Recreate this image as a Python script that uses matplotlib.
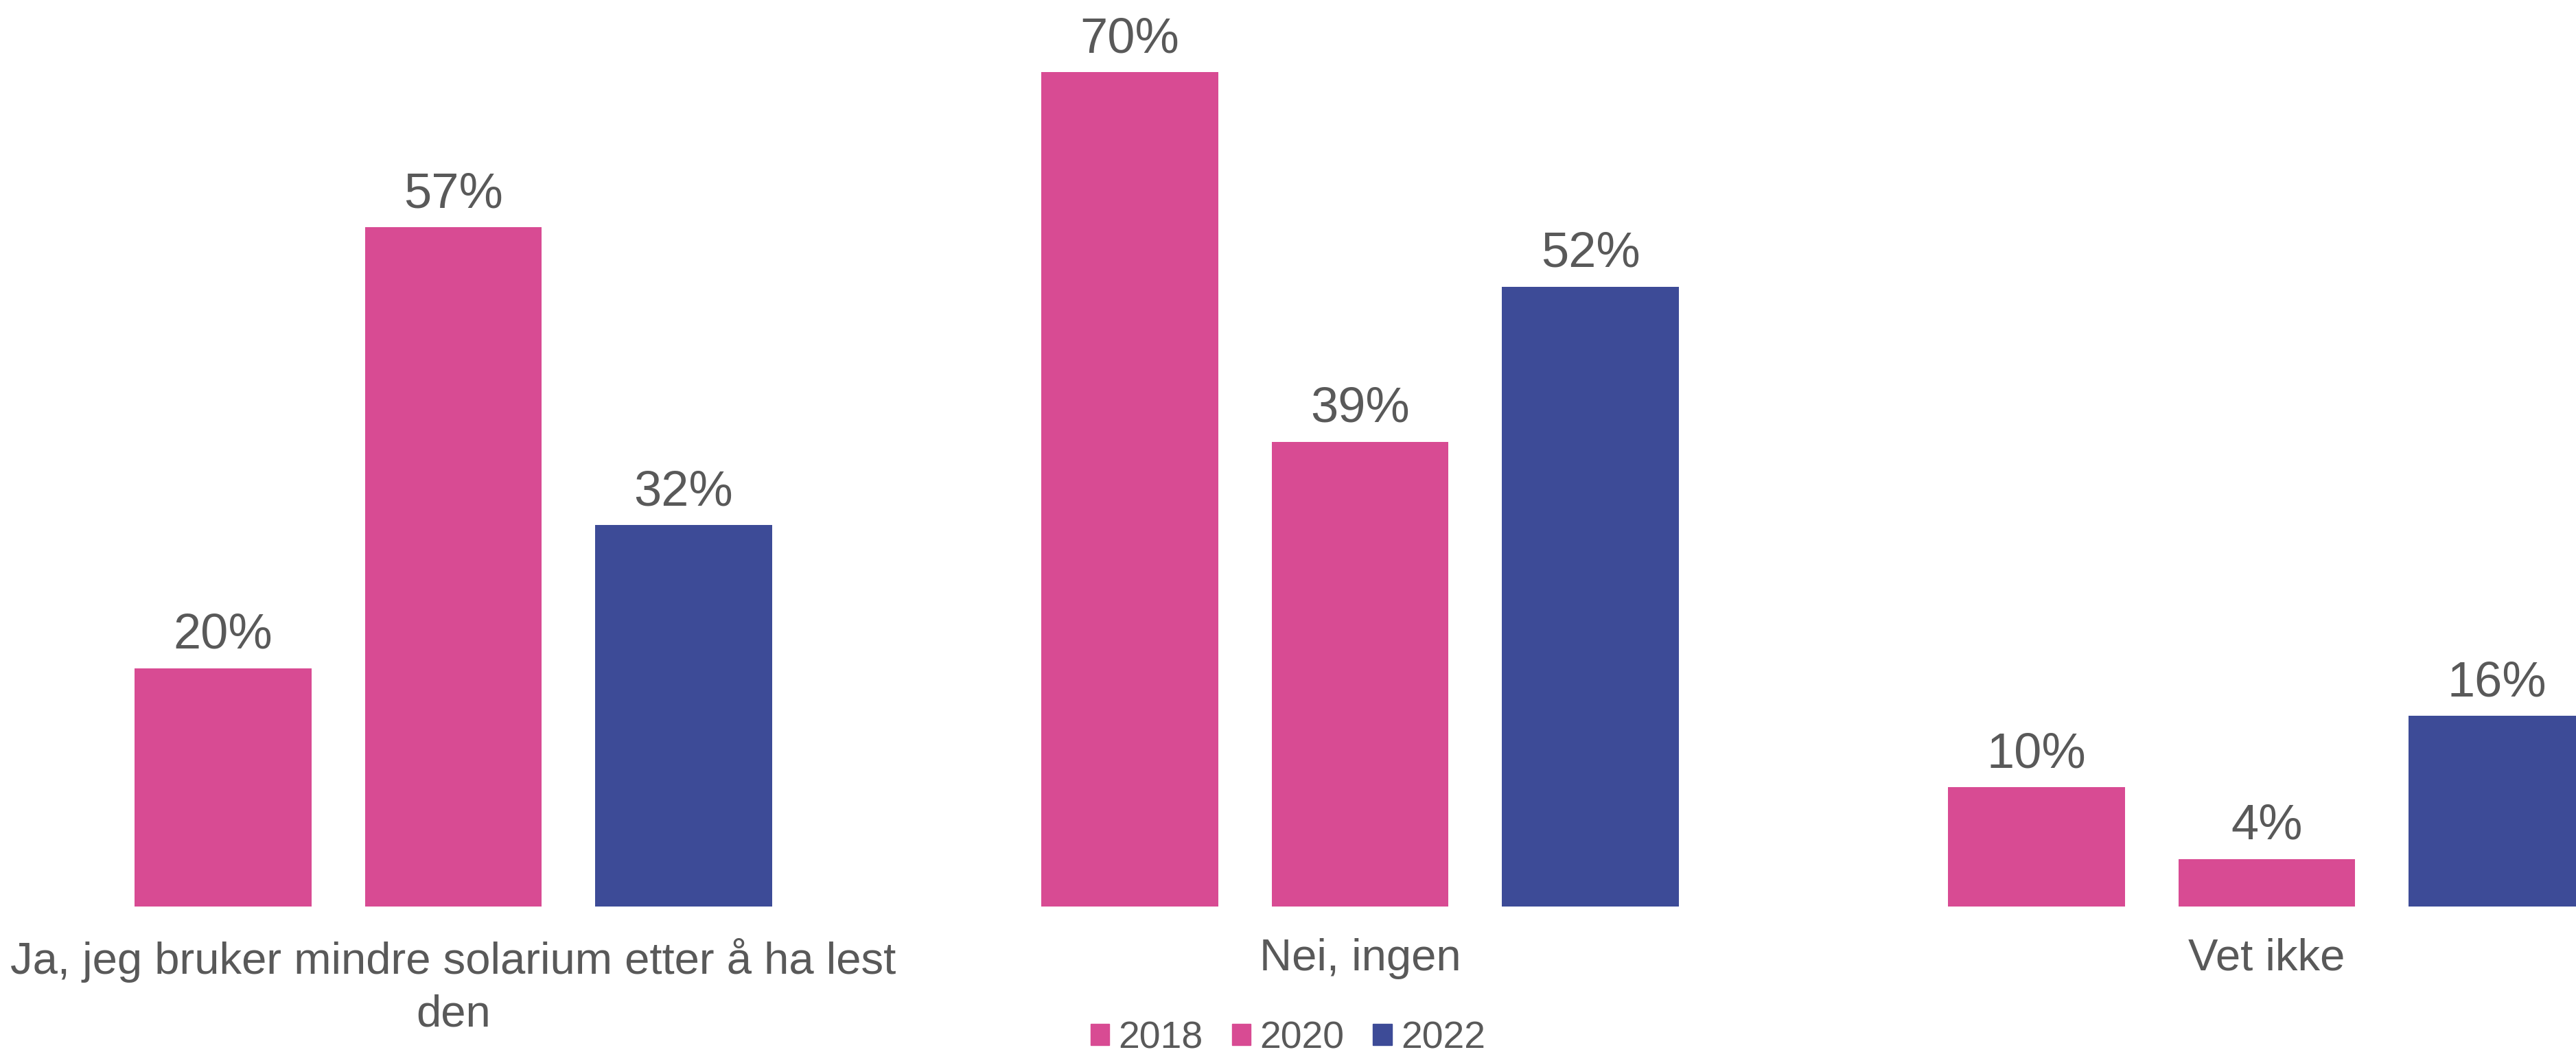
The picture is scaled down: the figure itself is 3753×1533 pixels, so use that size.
import numpy as np
import matplotlib.pyplot as plt
from matplotlib.patches import Patch

plt.rcParams['font.family'] = ['Liberation Sans', 'DejaVu Sans']

categories = ['Ja, jeg bruker mindre solarium etter å ha lest\nden', 'Nei, ingen', 'Vet ikke']
years = ['2018', '2020', '2022']
v2018 = [20, 70, 10]
v2020 = [57, 39, 4]
v2022 = [32, 52, 16]

pink = '#D84B93'
blue = '#3D4B97'
grey = '#595959'
colors = [pink, pink, blue]

fig = plt.figure(figsize=(37.53, 15.33), dpi=100)
ax = fig.add_axes([0, 0.1383, 1, 0.8617])

x = np.arange(len(categories))
w = 0.195
step = 0.254
for i, (vals, c) in enumerate(zip([v2018, v2020, v2022], colors)):
    bars = ax.bar(x + (i - 1) * step, vals, width=w, color=c)
    ax.bar_label(bars, labels=[f'{v}%' for v in vals], padding=10,
                 fontsize=52, color=grey)

ax.set_xlim(-0.5, 2.341)
ax.set_ylim(0, 76.05)
ax.set_xticks(x)
ax.set_xticklabels(categories, fontsize=47, color=grey, linespacing=1.35)
ax.tick_params(axis='x', length=0, pad=33)
ax.set_yticks([])
for s in ax.spines.values():
    s.set_visible(False)

handles = [Patch(color=c, label=y) for c, y in zip(colors, years)]
fig.legend(handles=handles, loc='center', bbox_to_anchor=(0.5, 0.013), ncol=3,
           frameon=False, fontsize=40, labelcolor=grey, handlelength=0.49,
           handleheight=0.49, handletextpad=0.25, columnspacing=0.75)

fig.savefig('out.png', dpi=100)
